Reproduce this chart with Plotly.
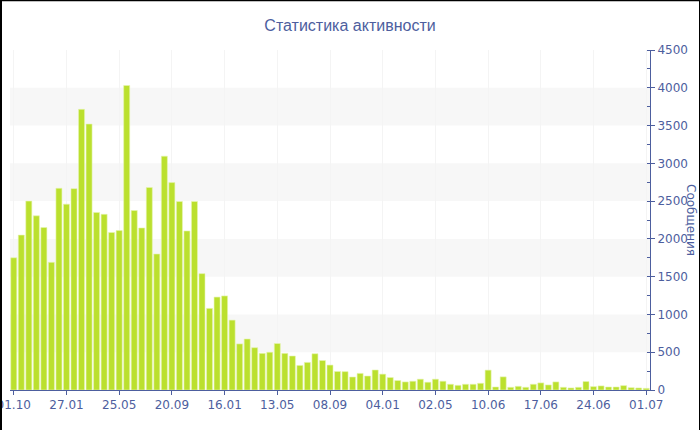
import plotly.graph_objects as go

# ---- data ----
bar_index = list(range(1, 86))
messages = [
    1750, 2050, 2500, 2305, 2150, 1690, 2670, 2460, 2665, 3715,
    3520, 2350, 2325, 2085, 2110, 4030, 2375, 2145, 2680, 1800,
    3095, 2745, 2495, 2105, 2495, 1540, 1080, 1230, 1245, 925,
    610, 675, 560, 485, 500, 615, 485, 450, 325, 365,
    480, 390, 330, 245, 243, 172, 220, 185, 265, 210,
    165, 125, 107, 116, 143, 103, 143, 116, 76, 62,
    76, 76, 89, 263, 40, 174, 36, 49, 36, 76,
    94, 67, 107, 36, 27, 36, 112, 45, 54, 40,
    40, 58, 31, 27, 22,
]
tick_positions = [1, 8, 15, 22, 29, 36, 43, 50, 57, 64, 71, 78, 85]
tick_labels = ["01.10", "27.01", "25.05", "20.09", "16.01", "13.05", "08.09",
               "04.01", "02.05", "10.06", "17.06", "24.06", "01.07"]
y_ticks = [0, 500, 1000, 1500, 2000, 2500, 3000, 3500, 4000, 4500]
band_ranges = [(500, 1000), (1500, 2000), (2500, 3000), (3500, 4000)]

title_text = "Статистика активности"
y_title = "Сообщения"

AXIS = "#4d5e9e"
FONT = "DejaVu Sans"

fig = go.Figure()
fig.add_trace(go.Bar(
    x=bar_index, y=messages,
    marker=dict(color="#bbe02e", line=dict(color="#e6f5b0", width=0.6)),
    width=0.8,
    hoverinfo="y",
))

shapes = []
for lo, hi in band_ranges:
    shapes.append(dict(type="rect", xref="paper", yref="y", x0=0, x1=1, y0=lo, y1=hi,
                       fillcolor="#f7f7f7", line=dict(width=0), layer="below"))

# outer border (top, left, right)
L, R, T, B = 10, 50, 50, 40
W, H = 700, 430
pw, ph = W - L - R, H - T - B
def px(xp):
    return (xp - L) / pw
def py(yp):
    return (H - B - yp) / ph
shapes.append(dict(type="line", xref="paper", yref="paper", x0=px(0), x1=px(W), y0=py(0.5), y1=py(0.5),
                   line=dict(color="black", width=1.5)))
shapes.append(dict(type="line", xref="paper", yref="paper", x0=px(1), x1=px(1), y0=py(0), y1=py(H),
                   line=dict(color="black", width=2)))
shapes.append(dict(type="line", xref="paper", yref="paper", x0=px(699.5), x1=px(699.5), y0=py(0), y1=py(H),
                   line=dict(color="black", width=1)))

fig.update_layout(
    width=W, height=H,
    margin=dict(l=L, r=R, t=T, b=B, autoexpand=False),
    paper_bgcolor="white", plot_bgcolor="white",
    showlegend=False,
    bargap=0.2,
    title=dict(text=title_text, x=0.5, xanchor="center", xref="container", y=1 - 25 / H, yanchor="middle",
               font=dict(family="Liberation Sans", size=16, color=AXIS)),
    font=dict(family=FONT, size=12, color=AXIS),
    shapes=shapes,
    annotations=[dict(text=y_title, textangle=90, xref="paper", yref="paper",
                      x=px(691), y=0.5, xanchor="center", yanchor="middle", showarrow=False,
                      font=dict(family=FONT, size=12, color=AXIS))],
)
fig.update_xaxes(
    range=[0.5, 85.5], automargin=False, ticklabeloverflow="allow",
    tickmode="array", tickvals=tick_positions, ticktext=tick_labels,
    showline=True, linecolor=AXIS, linewidth=1,
    ticks="outside", ticklen=4, tickcolor=AXIS,
    showgrid=True, gridcolor="#f4f4f4", gridwidth=1,
    zeroline=False,
    tickfont=dict(family=FONT, size=12, color=AXIS),
)
fig.update_yaxes(
    side="right", range=[0, 4500], automargin=False, ticklabeloverflow="allow",
    tickmode="array", tickvals=y_ticks,
    showline=True, linecolor=AXIS, linewidth=1,
    ticks="outside", ticklen=4, tickcolor=AXIS,
    minor=dict(ticks="inside", ticklen=3, dtick=250, tickcolor=AXIS, showgrid=False),
    showgrid=False, zeroline=False,
    tickfont=dict(family=FONT, size=12, color=AXIS),
)

fig.write_html("out.html", config={"displayModeBar": False},
               post_script="document.body.style.margin='0';document.body.style.overflow='hidden';")
